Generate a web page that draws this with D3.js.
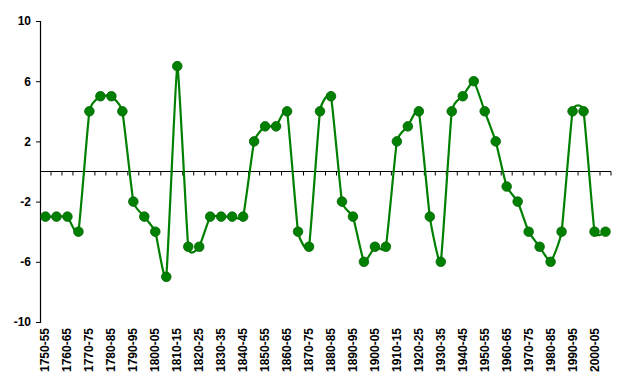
<!DOCTYPE html>
<html>
<head>
<meta charset="utf-8">
<script src="https://cdn.jsdelivr.net/npm/d3@7"></script>
<style>
  body { margin: 0; background: #fff; }
  text { font-family: Arial, "Liberation Sans", sans-serif; fill: #000; font-weight: bold; }
</style>
</head>
<body>
<div id="chart"></div>
<script>
// data
const periods = [
  "1750-55","1755-60","1760-65","1765-70","1770-75","1775-80","1780-85","1785-90",
  "1790-95","1795-00","1800-05","1805-10","1810-15","1815-20","1820-25","1825-30",
  "1830-35","1835-40","1840-45","1845-50","1850-55","1855-60","1860-65","1865-70",
  "1870-75","1875-80","1880-85","1885-90","1890-95","1895-00","1900-05","1905-10",
  "1910-15","1915-20","1920-25","1925-30","1930-35","1935-40","1940-45","1945-50",
  "1950-55","1955-60","1960-65","1965-70","1970-75","1975-80","1980-85","1985-90",
  "1990-95","1995-00","2000-05","2005-10"
];
const values = [
  -3, -3, -3, -4, 4, 5, 5, 4,
  -2, -3, -4, -7, 7, -5, -5, -3,
  -3, -3, -3, 2, 3, 3, 4, -4,
  -5, 4, 5, -2, -3, -6, -5, -5,
  2, 3, 4, -3, -6, 4, 5, 6,
  4, 2, -1, -2, -4, -5, -6, -4,
  4, 4, -4, -4
];
const yTicks = [-10, -6, -2, 2, 6, 10];

// setup
const width = 623;
const height = 388;
const margin = {left: 40, right: 12, top: 21, bottom: 66};

const svg = d3.select("#chart").append("svg")
    .attr("width", width)
    .attr("height", height);

const x = d3.scaleBand()
    .domain(periods)
    .range([margin.left, width - margin.right]);

const y = d3.scaleLinear()
    .domain([-10, 10])
    .range([height - margin.bottom, margin.top]);

const data = periods.map((p, i) => ({period: p, value: values[i]}));
const cx = d => x(d.period) + x.bandwidth() / 2;

// y axis (plain hyphen, like the original)
svg.append("g")
    .attr("transform", `translate(${margin.left},0)`)
    .call(d3.axisLeft(y).tickValues(yTicks).tickSize(4).tickPadding(5).tickFormat(d => String(d)))
    .call(g => g.select(".domain").attr("stroke", "#000").attr("stroke-width", 1.2))
    .call(g => g.selectAll(".tick line").attr("stroke", "#000"))
    .call(g => g.selectAll("text").style("font-size", "12px").attr("fill", "#000"));

// x axis on the zero line
const xAxis = svg.append("g")
    .attr("transform", `translate(0,${y(0)})`);
xAxis.append("line")
    .attr("x1", margin.left).attr("x2", width - margin.right)
    .attr("stroke", "#000").attr("stroke-width", 1.2);
xAxis.selectAll(".xt").data(periods).join("line")
    .attr("class", "xt")
    .attr("x1", d => x(d) + x.step())
    .attr("x2", d => x(d) + x.step())
    .attr("y1", 0).attr("y2", 4)
    .attr("stroke", "#000");

// category labels, every other one, below the plot
svg.append("g").selectAll("text")
    .data(periods.filter((d, i) => i % 2 === 0)).join("text")
    .attr("transform", d => `translate(${x(d) + x.bandwidth() / 2 + 4},${height - margin.bottom + 6}) rotate(-90)`)
    .attr("text-anchor", "end")
    .style("font-size", "12px")
    .text(d => d);

// smoothed line
const line = d3.line()
    .x(cx)
    .y(d => y(d.value))
    .curve(d3.curveCardinal.tension(0.6));

svg.append("path")
    .datum(data)
    .attr("fill", "none")
    .attr("stroke", "#008000")
    .attr("stroke-width", 2.2)
    .attr("d", line);

svg.append("g").selectAll("circle")
    .data(data).join("circle")
    .attr("cx", cx)
    .attr("cy", d => y(d.value))
    .attr("r", 4.8)
    .attr("fill", "#008000")
    .attr("stroke", "#006400")
    .attr("stroke-width", 0.8);
</script>
</body>
</html>
